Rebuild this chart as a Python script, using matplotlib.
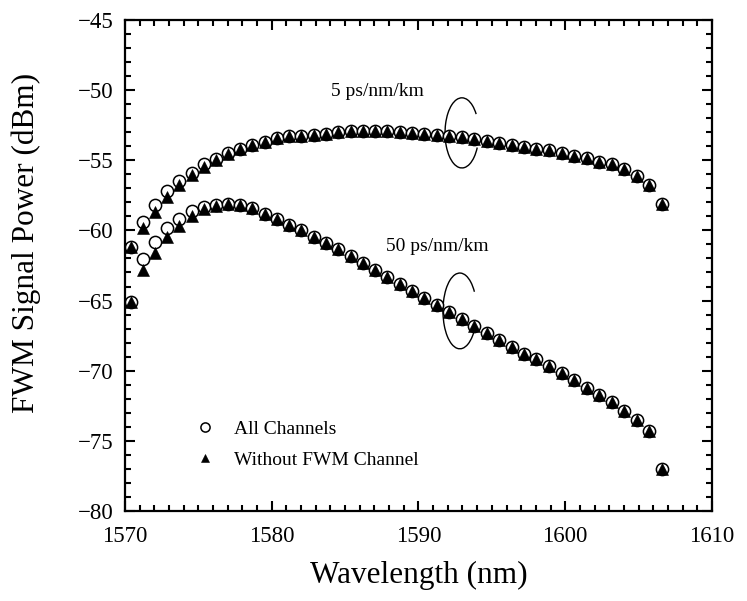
import matplotlib
matplotlib.use("Agg")
import matplotlib.pyplot as plt
from matplotlib.patches import Arc
from matplotlib.ticker import MultipleLocator

plt.rcParams['font.family'] = ['Liberation Serif', 'DejaVu Serif']

# channel wavelengths (nm), 100 GHz grid
wl = [1570.42, 1571.24, 1572.06, 1572.89, 1573.71, 1574.54, 1575.37, 1576.19,
      1577.03, 1577.86, 1578.69, 1579.52, 1580.35, 1581.19, 1582.02, 1582.86,
      1583.70, 1584.53, 1585.37, 1586.20, 1587.04, 1587.88, 1588.73, 1589.57,
      1590.41, 1591.26, 1592.10, 1592.95, 1593.80, 1594.64, 1595.49, 1596.34,
      1597.19, 1598.04, 1598.89, 1599.75, 1600.60, 1601.46, 1602.31, 1603.17,
      1604.03, 1604.89, 1605.74, 1606.60]

# 5 ps/nm/km
p5_all = [-61.2, -59.4, -58.2, -57.2, -56.5, -55.9, -55.3, -54.9, -54.5, -54.2,
          -53.9, -53.7, -53.45, -53.3, -53.25, -53.2, -53.1, -53.0, -52.95, -52.9,
          -52.95, -52.95, -53.0, -53.05, -53.1, -53.2, -53.25, -53.35, -53.5, -53.6,
          -53.75, -53.9, -54.05, -54.2, -54.3, -54.5, -54.7, -54.85, -55.1, -55.3,
          -55.65, -56.1, -56.8, -58.1]
p5_wo = [-61.2, -59.8, -58.7, -57.6, -56.8, -56.05, -55.5, -55.0, -54.55, -54.2,
         -53.9, -53.7, -53.45, -53.3, -53.25, -53.2, -53.1, -53.0, -52.95, -52.9,
         -52.95, -52.95, -53.0, -53.05, -53.1, -53.2, -53.25, -53.35, -53.5, -53.6,
         -53.75, -53.9, -54.05, -54.2, -54.3, -54.5, -54.7, -54.85, -55.1, -55.3,
         -55.65, -56.1, -56.8, -58.1]

# 50 ps/nm/km
p50_all = [-65.1, -62.05, -60.8, -59.8, -59.2, -58.65, -58.35, -58.2, -58.1, -58.2,
           -58.4, -58.8, -59.2, -59.6, -60.0, -60.5, -60.9, -61.35, -61.8, -62.35,
           -62.8, -63.3, -63.8, -64.3, -64.85, -65.3, -65.8, -66.3, -66.8, -67.3,
           -67.8, -68.3, -68.8, -69.2, -69.7, -70.2, -70.7, -71.2, -71.7, -72.25,
           -72.9, -73.5, -74.3, -77.0]
p50_wo = [-65.1, -62.85, -61.6, -60.45, -59.7, -58.95, -58.5, -58.25, -58.1, -58.2,
          -58.4, -58.8, -59.2, -59.6, -60.0, -60.5, -60.9, -61.35, -61.8, -62.35,
          -62.8, -63.3, -63.8, -64.3, -64.85, -65.3, -65.8, -66.3, -66.8, -67.3,
          -67.8, -68.3, -68.8, -69.2, -69.7, -70.2, -70.7, -71.2, -71.7, -72.25,
          -72.9, -73.5, -74.3, -77.0]

fig = plt.figure(figsize=(7.47, 6.01), dpi=100)
ax = fig.add_axes([0.1673, 0.1498, 0.7858, 0.8170])

circ = dict(ls='none', marker='o', ms=8.8, mfc='white', mec='black', mew=1.1)
tri = dict(ls='none', marker='^', ms=8.4, mfc='black', mec='black', mew=0.4)

ax.plot(wl, p5_all, label='All Channels', **circ)
ax.plot(wl, p50_all, **circ)
ax.plot(wl, p5_wo, label='Without FWM Channel', **tri)
ax.plot(wl, p50_wo, **tri)

# grouping arcs
ax.add_patch(Arc((1592.96, -53.05), 2.3, 5.0, theta1=54, theta2=315, color='black', lw=1.0))
ax.add_patch(Arc((1592.82, -65.74), 2.3, 5.4, theta1=54, theta2=315, color='black', lw=1.0))
ax.text(1590.4, -50.1, '5 ps/nm/km', ha='right', va='center', fontsize=14)
ax.text(1587.8, -61.15, '50 ps/nm/km', ha='left', va='center', fontsize=14)

ax.set_xlim(1570, 1610)
ax.set_ylim(-80, -45)
ax.set_xticks([1570, 1580, 1590, 1600, 1610])
ax.xaxis.set_minor_locator(MultipleLocator(1))
ax.yaxis.set_major_locator(MultipleLocator(5))
ax.yaxis.set_minor_locator(MultipleLocator(1))
ax.tick_params(which='both', direction='in', top=True, right=True, width=1.5)
ax.tick_params(which='major', length=7, labelsize=16.5)
ax.tick_params(axis='x', which='major', pad=11)
ax.tick_params(axis='y', which='major', pad=8)
ax.tick_params(which='minor', length=4.5)
for s in ax.spines.values():
    s.set_linewidth(1.6)

ax.set_xlabel('Wavelength (nm)', fontsize=22.5, labelpad=10)
ax.set_ylabel('FWM Signal Power (dBm)', fontsize=22.5)
ax.yaxis.set_label_coords(-0.143, 0.545)

ax.legend(loc='lower left', bbox_to_anchor=(0.09, 0.05), frameon=False, fontsize=14,
          markerscale=0.75, handlelength=1.0, handletextpad=1.0, labelspacing=0.7)

fig.savefig('out.png', dpi=100)
